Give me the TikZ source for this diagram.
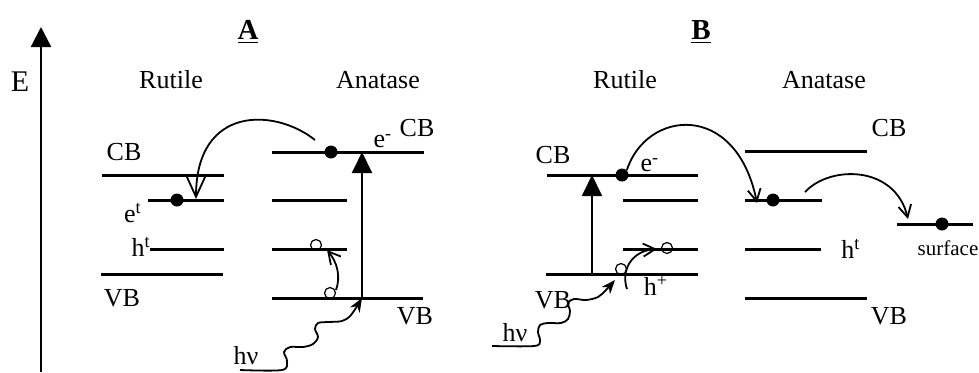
\documentclass[tikz,border=0pt]{standalone}
\usepackage{fontspec}
\setmainfont{Liberation Serif}
\usetikzlibrary{arrows.meta}
\begin{document}
\begin{tikzpicture}[x=0.5pt,y=-0.5pt,
  lvl/.style={line width=1.5pt},
  lbl/.style={inner sep=0pt, font=\fontsize{13}{15}\selectfont},
  small/.style={inner sep=0pt, font=\fontsize{10.5}{12}\selectfont},
  ttl/.style={inner sep=0pt, font=\fontsize{14.5}{16}\selectfont\bfseries},
  dot/.style={circle, fill=black, inner sep=0pt, minimum size=6.5pt},
  hole/.style={circle, draw=black, line width=0.6pt, inner sep=0pt, minimum size=5.5pt},
  conn/.style={line width=0.9pt},
  bigbarb/.style={conn,-{Straight Barb[length=11pt,width=10pt,line width=0.9pt]}},
  barb/.style={conn,-{Straight Barb[length=6pt,width=6.5pt,line width=0.9pt]}},
  tri/.style={line width=1pt,-{Triangle[length=10.5pt,width=10pt]}},
  wave/.style={line width=0.9pt,-{Stealth[length=7pt,width=5.5pt]}}
]
\useasboundingbox (0,0) rectangle (979,372);

% ---------- energy axis ----------
\coordinate (E0) at (41,372);
\coordinate (E1) at (41,27);
\draw[line width=1.1pt,-{Triangle[length=10pt,width=10pt]}] (E0) -- (E1);
\node[lbl, font=\fontsize{15}{17}\selectfont] (Elab) at (20,82) {E};

% ================= PANEL A =================
\node[ttl] (titleA) at (248,32) {\underline{A}};
\node[lbl] (rutA) at (171,80) {Rutile};
\node[lbl] (anaA) at (378,80) {Anatase};

% rutile levels
\coordinate (aRcb1) at (102,175); \coordinate (aRcb2) at (224,175);
\coordinate (aRet1) at (148,200); \coordinate (aRet2) at (224,200);
\coordinate (aRht1) at (150,249); \coordinate (aRht2) at (224,249);
\coordinate (aRvb1) at (101,274); \coordinate (aRvb2) at (223,274);
\draw[lvl] (aRcb1) -- (aRcb2);
\draw[lvl] (aRet1) -- (aRet2);
\draw[lvl] (aRht1) -- (aRht2);
\draw[lvl] (aRvb1) -- (aRvb2);
\node[lbl] (aRcbL) at (124,152) {CB};
\node[lbl] (aRvbL) at (122,298) {VB};
\node[lbl] (aRetL) at (133,213) {e\textsuperscript{t}};
\node[lbl, anchor=east] (aRhtL) at (151,247) {h\textsuperscript{t}};

% anatase levels
\coordinate (aAcb1) at (272,152); \coordinate (aAcb2) at (424,152);
\coordinate (aA21) at (272,200); \coordinate (aA22) at (347,200);
\coordinate (aA31) at (272,249); \coordinate (aA32) at (347,249);
\coordinate (aAvb1) at (272,298); \coordinate (aAvb2) at (423,298);
\draw[lvl] (aAcb1) -- (aAcb2);
\draw[lvl] (aA21) -- (aA22);
\draw[lvl] (aA31) -- (aA32);
\draw[lvl] (aAvb1) -- (aAvb2);
\node[lbl] (aAeL) at (383,141) {e\textsuperscript{-}};
\node[lbl] (aAcbL) at (417,128) {CB};
\node[lbl] (aAvbL) at (415,316) {VB};

% excitation arrow
\coordinate (aVbase) at (362,298);
\coordinate (aVtip) at (362,152);
\draw[tri] (aVbase) -- (aVtip);

% electrons
\node[dot] (aAdot) at (331,152) {};
\node[dot] (aRdot) at (177,200) {};
\coordinate (aJs) at (315,140);
\coordinate (aJe) at (196,199);
\draw[bigbarb] (aJs) .. controls (275,108) and (196,105) .. (aJe);

% holes
\node[hole] (aH1) at (316,245) {};
\node[hole] (aH2) at (330,293) {};
\coordinate (aHs) at (336,290);
\coordinate (aHe) at (327,250);
\draw[barb] (aHs) .. controls (341,276) and (337,262) .. (aHe);

% photon
\node[lbl] (aHv) at (246,356) {hν};
\coordinate (aW0) at (240,370);
\draw[wave] plot[smooth, tension=0.55] coordinates {(aW0) (282,370) (287,361) (284,352) (290,347) (303,347) (313,344) (318,337) (315,329) (318,323) (328,322) (342,321) (351,315) (aVbase)};

% ================= PANEL B =================
\node[ttl] (titleB) at (701,32) {\underline{B}};
\node[lbl] (rutB) at (625,80) {Rutile};
\node[lbl] (anaB) at (824,80) {Anatase};

% rutile levels
\coordinate (bRcb1) at (547,175); \coordinate (bRcb2) at (698,175);
\coordinate (bR21) at (623,200); \coordinate (bR22) at (698,200);
\coordinate (bR31) at (623,249); \coordinate (bR32) at (698,249);
\coordinate (bRvb1) at (546,274); \coordinate (bRvb2) at (698,274);
\draw[lvl] (bRcb1) -- (bRcb2);
\draw[lvl] (bR21) -- (bR22);
\draw[lvl] (bR31) -- (bR32);
\draw[lvl] (bRvb1) -- (bRvb2);
\node[lbl] (bRcbL) at (553,155) {CB};
\node[lbl] (bRvbL) at (553,300) {VB};
\node[lbl] (bReL) at (650,165) {e\textsuperscript{-}};
\node[lbl] (bRhL) at (656,286) {h\textsuperscript{+}};

% anatase levels
\coordinate (bAcb1) at (745,151); \coordinate (bAcb2) at (867,151);
\coordinate (bA21) at (745,200); \coordinate (bA22) at (822,200);
\coordinate (bA31) at (745,249); \coordinate (bA32) at (821,249);
\coordinate (bAvb1) at (745,298); \coordinate (bAvb2) at (867,298);
\draw[lvl] (bAcb1) -- (bAcb2);
\draw[lvl] (bA21) -- (bA22);
\draw[lvl] (bA31) -- (bA32);
\draw[lvl] (bAvb1) -- (bAvb2);
\node[lbl] (bAcbL) at (889,128) {CB};
\node[lbl] (bAvbL) at (889,316) {VB};
\node[lbl] (bAhtL) at (851,249) {h\textsuperscript{t}};

% surface level
\coordinate (bS1) at (897,224); \coordinate (bS2) at (973,224);
\draw[lvl] (bS1) -- (bS2);
\node[small] (bSL) at (948,248) {surface};

% excitation arrow
\coordinate (bVbase) at (592,274);
\coordinate (bVtip) at (592,175);
\draw[tri] (bVbase) -- (bVtip);

% electrons
\node[dot] (bRdot) at (622,175) {};
\node[dot] (bAdot) at (773,200) {};
\node[dot] (bSdot) at (942,224) {};
\coordinate (bJ1e) at (757,203);
\draw[barb] (bRdot.north east) .. controls (646,110) and (736,100) .. (bJ1e);
\coordinate (bJ2s) at (805,192);
\coordinate (bJ2e) at (908,219);
\draw[barb] (bJ2s) .. controls (830,165) and (895,165) .. (bJ2e);

% holes
\node[hole] (bH1) at (621,269) {};
\node[hole] (bH2) at (667,248) {};
\coordinate (bHs) at (627,289);
\coordinate (bHe) at (657,249);
\draw[barb] (bHs) .. controls (621,272) and (630,251) .. (bHe);

% photon
\node[lbl] (bHv) at (515,333) {hν};
\coordinate (bW0) at (492,346);
\coordinate (bWe) at (615,280);
\draw[wave] plot[smooth, tension=0.55] coordinates {(bW0) (534,346) (540,341) (538,332) (540,325) (548,323) (561,323) (568,319) (570,311) (568,303) (574,299) (586,300) (598,297) (606,290) (bWe)};

\end{tikzpicture}
\end{document}
